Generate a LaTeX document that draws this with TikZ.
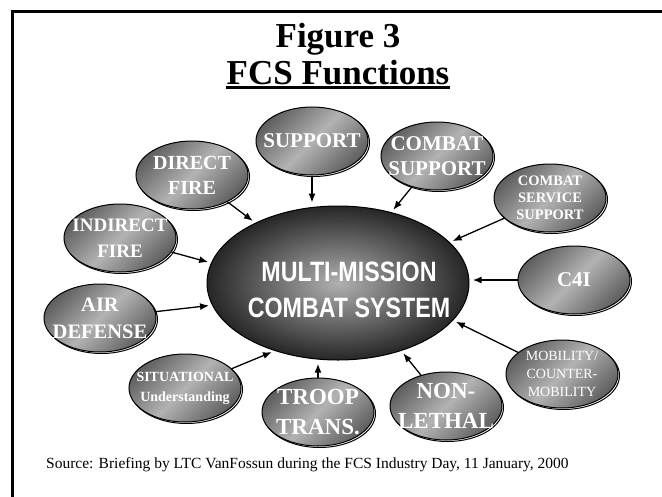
\documentclass[tikz,border=0pt]{standalone}
\usepackage{fontspec}
\setmainfont{Liberation Serif}
\newfontfamily\narrowsans[FakeStretch=0.83]{Liberation Sans}
\usetikzlibrary{shapes.geometric, shadows, arrows.meta}

\begin{document}
\begin{tikzpicture}[>={Latex[length=9pt, width=7pt]}, x=1pt, y=-1pt,
    balloon/.style={ellipse, draw, line width=1pt, minimum width=112pt, minimum height=68pt, inner sep=0pt,
      left color=gray!75!black, right color=gray!75!black, middle color=gray!60, shading angle=45,
      general shadow={draw=black, fill=white, line width=1pt, shadow xshift=1.5pt, shadow yshift=-1.5pt}},
    btext/.style={text=white, align=center, inner sep=0pt, font=\bfseries\fontsize{20}{25}\selectfont},
    feed/.style={->, line width=1.3pt, shorten >=3pt}]
    \useasboundingbox[fill=white] (0,0) rectangle (662,496);
    \draw[line width=3pt] (12,498) -- (12,11) -- (664,11);

    \node[anchor=base, inner sep=0pt, font=\bfseries\fontsize{35}{40}\selectfont] (fig) at (338,47) {Figure 3};
    \node[anchor=base, inner sep=0pt, font=\bfseries\fontsize{35}{40}\selectfont] (fcs) at (338,84) {FCS Functions};
    \draw[line width=2.5pt] ([yshift=-3.5pt]fcs.base west) -- ([yshift=-3.5pt]fcs.base east);

    \node[ellipse, draw, line width=1pt, minimum width=262pt, minimum height=154pt,
      inner color=gray!62, outer color=gray!30!black] (mms) at (338,283) {};
    \node[text=white, align=center, font=\narrowsans\bfseries\fontsize{28}{36}\selectfont] (mmstext) at (349,290) {MULTI-MISSION\\COMBAT SYSTEM};

    \node[balloon, label={[btext]center:DIRECT\\FIRE}] (dfire) at (192,175) {};
    \node[balloon, label={[btext, font=\bfseries\fontsize{21}{25}\selectfont]center:SUPPORT}] (sup) at (312,141) {};
    \node[balloon, label={[btext, font=\bfseries\fontsize{21}{25}\selectfont]center:COMBAT\\SUPPORT}] (csup) at (437,156) {};
    \node[balloon, label={[btext, font=\bfseries\fontsize{14.5}{17}\selectfont]center:COMBAT\\SERVICE\\SUPPORT}] (css) at (550,198) {};
    \node[balloon, label={[btext, font=\bfseries\fontsize{19}{26}\selectfont]center:INDIRECT\\FIRE}] (ifire) at (120,238) {};
    \node[balloon, label={[btext, font=\bfseries\fontsize{21}{25}\selectfont]center:C4I}] (c4i) at (574,280) {};
    \node[balloon, label={[btext, font=\bfseries\fontsize{20.5}{27}\selectfont]center:AIR\\DEFENSE}] (air) at (100,318) {};
    \node[balloon, label={[btext, font=\fontsize{14}{18}\selectfont]center:MOBILITY/\\COUNTER-\\MOBILITY}] (mob) at (562,374) {};
    \node[balloon, label={[btext, font=\bfseries\fontsize{14}{20}\selectfont]center:SITUATIONAL\\Understanding}] (sit) at (185,388) {};
    \node[balloon, label={[btext, font=\bfseries\fontsize{23}{30}\selectfont]center:TROOP\\TRANS.}] (troop) at (318,412) {};
    \node[balloon, label={[btext, font=\bfseries\fontsize{23}{30}\selectfont]center:NON-\\LETHAL}] (nonl) at (446,406) {};

    \draw[feed] (dfire) -- (mms.144);
    \draw[feed] (sup) -- (sup |- mms.north);
    \draw[feed] (csup) -- (mms.53);
    \draw[feed] (css) -- (mms.20);
    \draw[feed] (ifire) -- (mms.171);
    \draw[feed, line width=2.2pt] (c4i) -- (c4i -| mms.east);
    \draw[feed] (air) -- (mms.190);
    \draw[feed] (sit) -- (mms.227);
    \draw[feed, line width=2.2pt] (troop) -- (troop |- mms.south);
    \draw[feed] (nonl) -- (mms.313);
    \draw[feed] (mob) -- (mms.342);

    \node[anchor=base west, inner sep=0pt, font=\fontsize{15.5}{17}\selectfont] (src) at (46,468)
      {Source: Briefing by LTC VanFossun during the FCS Industry Day, 11 January, 2000};
\end{tikzpicture}
\end{document}
